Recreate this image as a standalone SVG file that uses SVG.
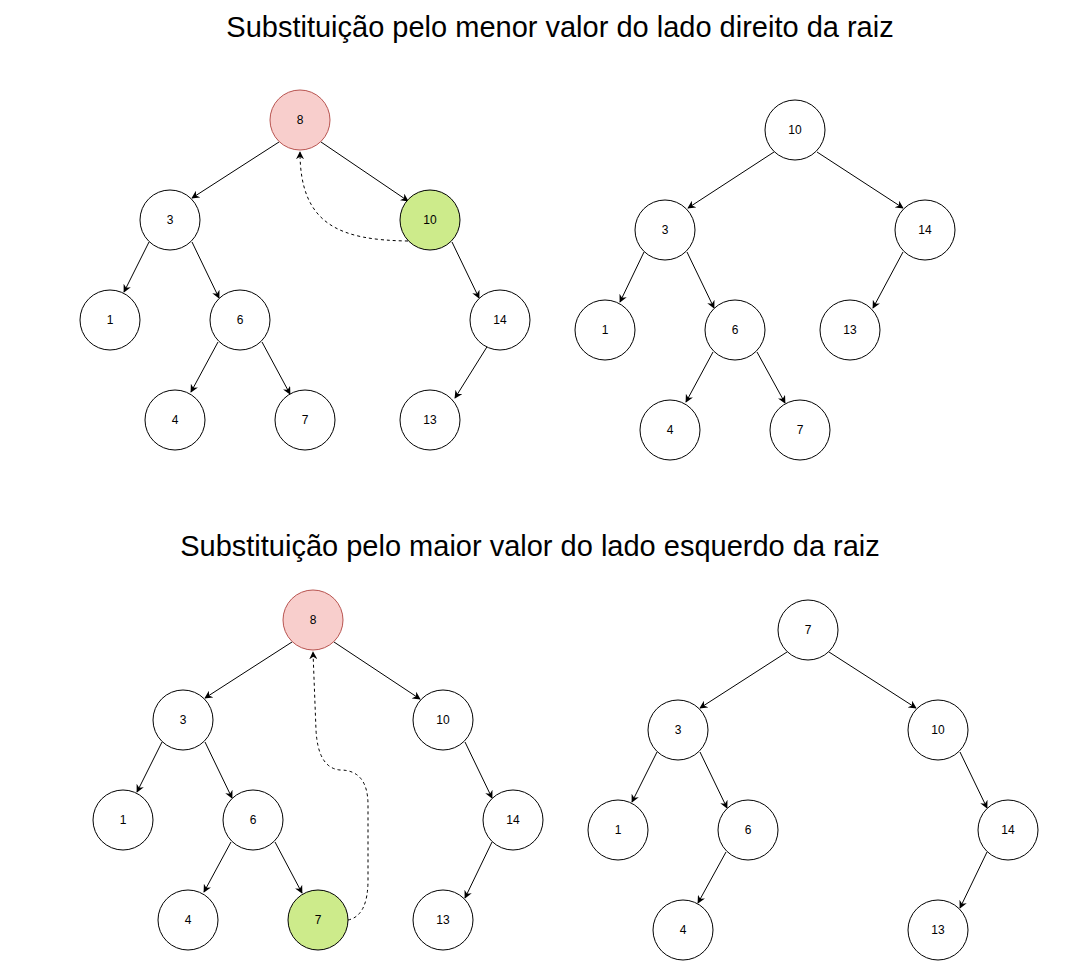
<svg xmlns="http://www.w3.org/2000/svg" width="1091" height="961" viewBox="0 0 1091 961">
<style>
.n circle{fill:#fff;stroke:#000;stroke-width:1}
.n text{font-family:"Liberation Sans",Arial,sans-serif;font-size:12px;fill:#000;text-anchor:middle;dominant-baseline:central}
.n.red circle{fill:#f8cecc;stroke:#b85450}
.n.green circle{fill:#cdeb8b;stroke:#000}
.t{font-family:"Liberation Sans",Arial,sans-serif;font-size:29px;fill:#000;text-anchor:middle}
#edges path{fill:none;stroke:#000;stroke-width:1;marker-end:url(#a)}
#edges path.d{stroke-dasharray:3 3}
</style>
<defs>
<marker id="a" viewBox="0 0 10 10" refX="9" refY="5" markerWidth="8" markerHeight="8" markerUnits="userSpaceOnUse" orient="auto">
<path d="M0,0 L10,5 L0,10 L3,5 Z" fill="#000"/>
</marker>
</defs>
<rect width="1091" height="961" fill="#fff"/>
<text class="t" x="560" y="37">Substituição pelo menor valor do lado direito da raiz</text>
<text class="t" x="530" y="556">Substituição pelo maior valor do lado esquerdo da raiz</text>
<g id="edges">
<path d="M279,142 L192,198"/>
<path d="M321,142 L408,201"/>
<path d="M149,242 L124,292"/>
<path d="M192,242 L219,298"/>
<path d="M452,242 L479,298"/>
<path d="M218,342 L191,392"/>
<path d="M262,342 L290,394"/>
<path d="M490,342 L455,398"/>
<path class="d" d="M408,241 C340,240 300,225 300,152"/>
<path d="M774,152 L688,208"/>
<path d="M817,152 L903,208"/>
<path d="M644,252 L620,302"/>
<path d="M687,252 L714,308"/>
<path d="M903,252 L873,308"/>
<path d="M713,352 L686,402"/>
<path d="M757,352 L785,403"/>
<path d="M292,642 L205,698"/>
<path d="M334,642 L420,699"/>
<path d="M162,742 L137,792"/>
<path d="M205,742 L232,798"/>
<path d="M465,742 L492,798"/>
<path d="M231,842 L204,892"/>
<path d="M275,842 L302,893"/>
<path d="M492,842 L465,898"/>
<path class="d" d="M348,920 Q368,916 368,880 L368,805 Q368,770 340,770 Q318,768 316,730 L313,652"/>
<path d="M787,652 L700,708"/>
<path d="M829,652 L916,708"/>
<path d="M657,752 L632,802"/>
<path d="M700,752 L727,808"/>
<path d="M726,852 L698,903"/>
<path d="M960,752 L987,808"/>
<path d="M987,852 L960,908"/>
</g>
<g id="tl8" class="n red"><circle cx="300" cy="120" r="30"/><text x="300" y="120">8</text></g>
<g id="tl3" class="n"><circle cx="170" cy="220" r="30"/><text x="170" y="220">3</text></g>
<g id="tl10" class="n green"><circle cx="430" cy="220" r="30"/><text x="430" y="220">10</text></g>
<g id="tl1" class="n"><circle cx="110" cy="320" r="30"/><text x="110" y="320">1</text></g>
<g id="tl6" class="n"><circle cx="240" cy="320" r="30"/><text x="240" y="320">6</text></g>
<g id="tl14" class="n"><circle cx="500" cy="320" r="30"/><text x="500" y="320">14</text></g>
<g id="tl4" class="n"><circle cx="175" cy="420" r="30"/><text x="175" y="420">4</text></g>
<g id="tl7" class="n"><circle cx="305" cy="420" r="30"/><text x="305" y="420">7</text></g>
<g id="tl13" class="n"><circle cx="430" cy="420" r="30"/><text x="430" y="420">13</text></g>
<g id="tr10" class="n"><circle cx="795" cy="130" r="30"/><text x="795" y="130">10</text></g>
<g id="tr3" class="n"><circle cx="665" cy="230" r="30"/><text x="665" y="230">3</text></g>
<g id="tr14" class="n"><circle cx="925" cy="230" r="30"/><text x="925" y="230">14</text></g>
<g id="tr1" class="n"><circle cx="605" cy="330" r="30"/><text x="605" y="330">1</text></g>
<g id="tr6" class="n"><circle cx="735" cy="330" r="30"/><text x="735" y="330">6</text></g>
<g id="tr13" class="n"><circle cx="850" cy="330" r="30"/><text x="850" y="330">13</text></g>
<g id="tr4" class="n"><circle cx="670" cy="430" r="30"/><text x="670" y="430">4</text></g>
<g id="tr7" class="n"><circle cx="800" cy="430" r="30"/><text x="800" y="430">7</text></g>
<g id="bl8" class="n red"><circle cx="313" cy="620" r="30"/><text x="313" y="620">8</text></g>
<g id="bl3" class="n"><circle cx="183" cy="720" r="30"/><text x="183" y="720">3</text></g>
<g id="bl10" class="n"><circle cx="443" cy="720" r="30"/><text x="443" y="720">10</text></g>
<g id="bl1" class="n"><circle cx="123" cy="820" r="30"/><text x="123" y="820">1</text></g>
<g id="bl6" class="n"><circle cx="253" cy="820" r="30"/><text x="253" y="820">6</text></g>
<g id="bl14" class="n"><circle cx="513" cy="820" r="30"/><text x="513" y="820">14</text></g>
<g id="bl4" class="n"><circle cx="188" cy="920" r="30"/><text x="188" y="920">4</text></g>
<g id="bl7" class="n green"><circle cx="318" cy="920" r="30"/><text x="318" y="920">7</text></g>
<g id="bl13" class="n"><circle cx="443" cy="920" r="30"/><text x="443" y="920">13</text></g>
<g id="br7" class="n"><circle cx="808" cy="630" r="30"/><text x="808" y="630">7</text></g>
<g id="br3" class="n"><circle cx="678" cy="730" r="30"/><text x="678" y="730">3</text></g>
<g id="br10" class="n"><circle cx="938" cy="730" r="30"/><text x="938" y="730">10</text></g>
<g id="br1" class="n"><circle cx="618" cy="830" r="30"/><text x="618" y="830">1</text></g>
<g id="br6" class="n"><circle cx="748" cy="830" r="30"/><text x="748" y="830">6</text></g>
<g id="br14" class="n"><circle cx="1008" cy="830" r="30"/><text x="1008" y="830">14</text></g>
<g id="br4" class="n"><circle cx="683" cy="930" r="30"/><text x="683" y="930">4</text></g>
<g id="br13" class="n"><circle cx="938" cy="930" r="30"/><text x="938" y="930">13</text></g>
</svg>
